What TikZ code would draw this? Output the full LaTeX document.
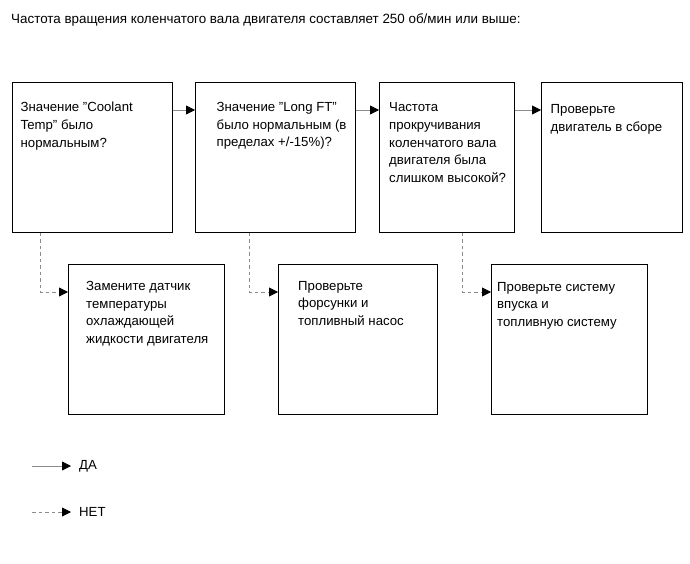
\documentclass[tikz,border=0pt]{standalone}
\usepackage{fontspec}
\setmainfont{Liberation Sans}
\usetikzlibrary{arrows.meta,positioning}

\tikzset{
  box/.style={draw=black, line width=0.9pt, inner sep=0pt, anchor=north west,
              minimum height=150pt},
  txt/.style={anchor=north west, align=left, inner sep=0pt,
              font=\fontsize{13.2}{17.7}\selectfont},
  yes/.style={draw=black!45, line width=0.8pt,
              -{Triangle[length=9pt,width=9pt,color=black]}},
  no/.style={yes, dash pattern=on 3.5pt off 3pt}
}

\begin{document}
\begin{tikzpicture}[x=1pt,y=-1pt]
  \useasboundingbox (0,0) rectangle (690,564);

  \node[txt, anchor=west, font=\fontsize{13.4}{16}\selectfont] (title) at (11,19.5)
    {Частота вращения коленчатого вала двигателя составляет 250 об/мин или выше:};

  % upper row
  \node[box, minimum width=160pt] (b1) at (12,82) {};
  \node[box, minimum width=160pt] (b2) at (195,82) {};
  \node[box, minimum width=135pt] (b3) at (379,82) {};
  \node[box, minimum width=141pt] (b4) at (541,82) {};

  % lower row
  \node[box, minimum width=156pt] (b5) at (68,264) {};
  \node[box, minimum width=159pt] (b6) at (278,264) {};
  \node[box, minimum width=156pt] (b7) at (491,264) {};

  % texts
  \node[txt] (t1) at (20.5,102) {Значение "Coolant\\Temp" было\\нормальным?};
  \node[txt] (t2) at (216.5,102) {Значение "Long FT"\\было нормальным (в\\пределах +/-15\%)?};
  \node[txt] (t3) at (389,102.5) {Частота\\прокручивания\\коленчатого вала\\двигателя была\\слишком высокой?};
  \node[txt] (t4) at (550.5,104.5) {Проверьте\\двигатель в сборе};
  \node[txt] (t5) at (86,281) {Замените датчик\\температуры\\охлаждающей\\жидкости двигателя};
  \node[txt] (t6) at (298,281) {Проверьте\\форсунки и\\топливный насос};
  \node[txt] (t7) at (497,282) {Проверьте систему\\впуска и\\топливную систему};

  % yes
  \draw[yes] ([yshift=-28pt]b1.north east) -- ([yshift=-28pt]b2.north west);
  \draw[yes] ([yshift=-28pt]b2.north east) -- ([yshift=-28pt]b3.north west);
  \draw[yes] ([yshift=-28pt]b3.north east) -- ([yshift=-28pt]b4.north west);

  % no
  \draw[no] ([xshift=28pt]b1.south west) |- ([yshift=-28pt]b5.north west);
  \draw[no] ([xshift=54pt]b2.south west) |- ([yshift=-28pt]b6.north west);
  \draw[no] ([xshift=83pt]b3.south west) |- ([yshift=-28pt]b7.north west);

  % legend
  \coordinate (l1) at (32,466);
  \coordinate (l2) at (32,512);
  \node[txt, anchor=west, inner xsep=8pt] (da) at (71,466) {ДА};
  \node[txt, anchor=west, inner xsep=8pt] (net) at (71,512) {НЕТ};
  \draw[yes] (l1) -- (da);
  \draw[no] (l2) -- (net);
\end{tikzpicture}
\end{document}
